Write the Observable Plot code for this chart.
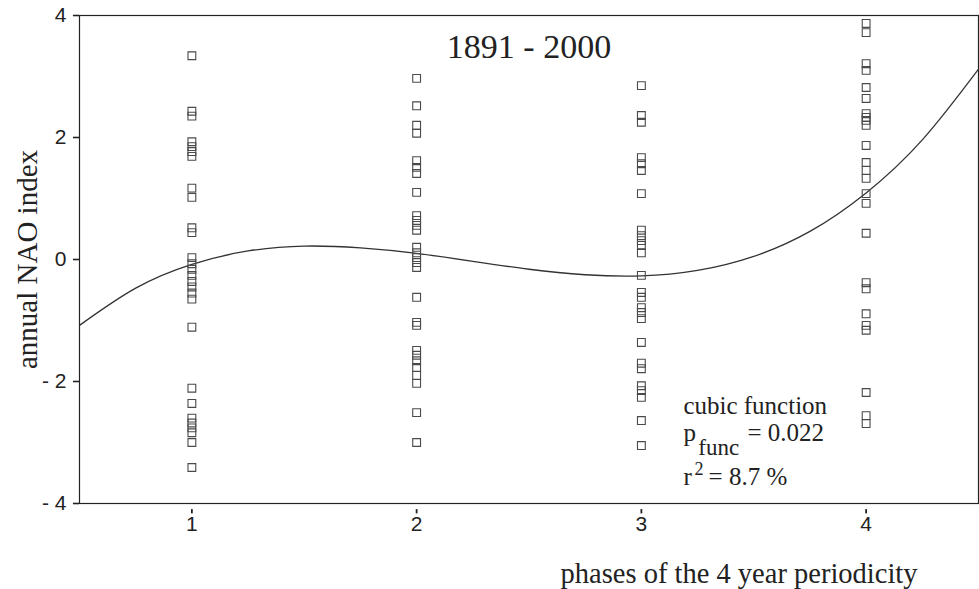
<!DOCTYPE html>
<html>
<head>
<meta charset="utf-8">
<script src="https://cdn.jsdelivr.net/npm/d3@7"></script>
<script src="https://cdn.jsdelivr.net/npm/@observablehq/plot@0.6"></script>
<style>
  html, body { margin: 0; padding: 0; background: #fff; }
  #chart svg { display: block; }
</style>
</head>
<body>
<div id="chart"></div>
<script>
// Annual NAO index (1891-2000) grouped by phase of the 4-year periodicity
const phases = [1, 2, 3, 4];

const phase1Values = [3.34, 2.43, 2.35, 1.93, 1.85, 1.77, 1.69, 1.17, 1.02, 0.52, 0.44,
  0.03, -0.07, -0.16, -0.26, -0.36, -0.45, -0.55, -0.65, -1.11, -2.11, -2.36,
  -2.60, -2.68, -2.76, -2.84, -3.00, -3.41];
const phase2Values = [2.97, 2.52, 2.20, 2.07, 1.62, 1.51, 1.41, 1.10, 0.72, 0.64, 0.56,
  0.48, 0.20, 0.11, 0.03, -0.05, -0.13, -0.62, -1.03, -1.08, -1.49, -1.57, -1.66,
  -1.77, -1.90, -2.03, -2.51, -3.00];
const phase3Values = [2.85, 2.36, 2.25, 1.67, 1.57, 1.46, 1.08, 0.48, 0.39, 0.31, 0.23,
  0.11, -0.26, -0.54, -0.62, -0.79, -0.87, -0.97, -1.36, -1.70, -1.79, -2.07, -2.15,
  -2.26, -2.64, -3.05];
const phase4Values = [3.87, 3.72, 3.21, 3.10, 2.82, 2.64, 2.39, 2.33, 2.28, 2.20, 1.87,
  1.59, 1.46, 1.33, 1.08, 0.92, 0.43, -0.38, -0.48, -0.89, -1.08, -1.16, -2.18,
  -2.56, -2.69];

// Fitted cubic function, read at quarter-phase steps
const fitPhase = [0.5, 0.75, 1, 1.25, 1.5, 1.75, 2, 2.25, 2.5, 2.75, 3, 3.25, 3.5, 3.75, 4, 4.25, 4.5];
const fitValue = [-1.08, -0.47, -0.08, 0.14, 0.22, 0.19, 0.10, -0.03, -0.16, -0.25, -0.27, -0.18, 0.05, 0.46, 1.09, 1.96, 3.12];

const yTicks = [-4, -2, 0, 2, 4];
const yTickLabels = ["- 4", "- 2", "0", "2", "4"];
const xTickLabels = ["1", "2", "3", "4"];

const points = [phase1Values, phase2Values, phase3Values, phase4Values]
  .flatMap((vals, i) => vals.map(v => ({phase: phases[i], nao: v})));
const fit = fitPhase.map((p, i) => ({phase: p, nao: fitValue[i]}));

const serif = "'Liberation Serif', 'Times New Roman', serif";
const sans = "'Liberation Sans', Arial, Helvetica, sans-serif";
const ink = "#222";

const chart = Plot.plot({
  width: 979,
  height: 589,
  marginLeft: 79,
  marginRight: 1,
  marginTop: 15,
  marginBottom: 86,
  style: {fontFamily: sans, color: ink, background: "#fff", overflow: "visible"},
  x: {domain: [0.5, 4.5], axis: null},
  y: {domain: [-4, 4], axis: null},
  marks: [
    Plot.frame({stroke: ink, strokeWidth: 1.2}),
    // tick marks, drawn just outside the frame
    Plot.ruleY(yTicks, {y: d => d, x1: 0.473, x2: 0.5, stroke: ink, strokeWidth: 1.6}),
    Plot.ruleX(phases, {x: d => d, y1: -4.1, y2: -4.17, stroke: ink, strokeWidth: 1.8}),
    // tick labels
    Plot.text(yTicks, {y: d => d, text: (d, i) => yTickLabels[i], frameAnchor: "left", textAnchor: "end",
      dx: -13, fontFamily: sans, fontSize: 21, fill: ink}),
    Plot.text(phases, {x: d => d, text: (d, i) => xTickLabels[i], frameAnchor: "bottom", lineAnchor: "top",
      dy: 13, fontFamily: sans, fontSize: 21, fill: ink}),
    Plot.line(fit, {x: "phase", y: "nao", curve: "natural", stroke: "#333", strokeWidth: 1.3}),
    Plot.dot(points, {x: "phase", y: "nao", symbol: "square", r: 4.4, stroke: "#4a4a4a", strokeWidth: 1.1, fill: "none"}),
    // title
    Plot.text(["1891 - 2000"], {frameAnchor: "top", dy: 42, lineAnchor: "bottom", fontFamily: serif, fontSize: 34, fill: ink}),
    // axis titles
    Plot.text(["annual NAO index"], {frameAnchor: "left", textAnchor: "middle", dx: -52, rotate: -90, fontFamily: serif, fontSize: 29, fill: ink}),
    Plot.text(["phases of the 4 year periodicity"], {frameAnchor: "bottom-right", textAnchor: "end", dx: -61, dy: 79, lineAnchor: "bottom", fontFamily: serif, fontSize: 28.5, fill: ink}),
    // fit statistics
    Plot.text(["cubic function"], {x: 3.187, y: -2.525, textAnchor: "start", lineAnchor: "bottom", fontFamily: serif, fontSize: 25, fill: ink}),
    Plot.text(["p"], {x: 3.187, y: -2.97, textAnchor: "start", lineAnchor: "bottom", fontFamily: serif, fontSize: 25, fill: ink}),
    Plot.text(["func"], {x: 3.253, y: -3.2, textAnchor: "start", lineAnchor: "bottom", fontFamily: serif, fontSize: 23, fill: ink}),
    Plot.text(["= 0.022"], {x: 3.472, y: -2.97, textAnchor: "start", lineAnchor: "bottom", fontFamily: serif, fontSize: 25, fill: ink}),
    Plot.text(["r"], {x: 3.187, y: -3.69, textAnchor: "start", lineAnchor: "bottom", fontFamily: serif, fontSize: 25, fill: ink}),
    Plot.text(["2"], {x: 3.236, y: -3.54, textAnchor: "start", lineAnchor: "bottom", fontFamily: serif, fontSize: 18, fill: ink}),
    Plot.text(["= 8.7 %"], {x: 3.299, y: -3.69, textAnchor: "start", lineAnchor: "bottom", fontFamily: serif, fontSize: 25, fill: ink})
  ]
});

document.getElementById("chart").append(chart);
</script>
</body>
</html>
